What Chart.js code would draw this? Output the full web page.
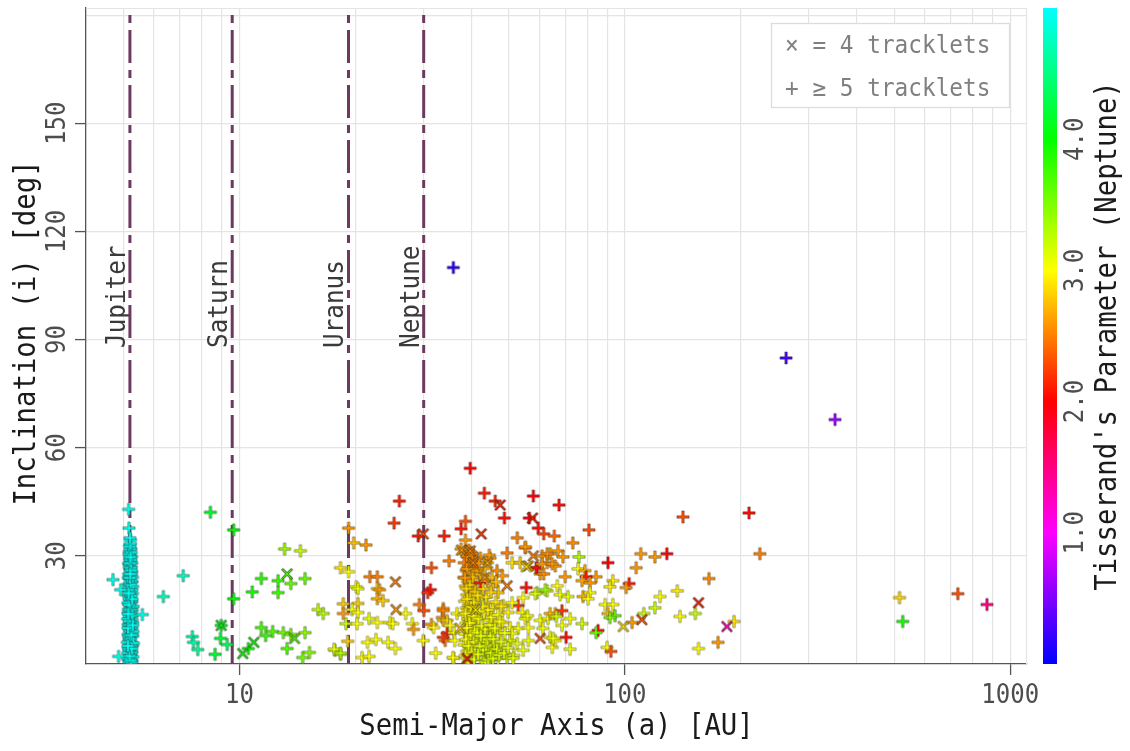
<!DOCTYPE html>
<html>
<head>
<meta charset="utf-8">
<script src="https://cdn.jsdelivr.net/npm/chart.js@4.4.1/dist/chart.umd.min.js"></script>
<style>
  html, body { margin: 0; padding: 0; background: #fff; }
  canvas { display: block; }
</style>
</head>
<body>
<canvas id="orbitChart" width="1130" height="751"></canvas>
<script>
// each entry: [semi-major axis (AU), inclination (deg), Tisserand parameter wrt Neptune]

const crossMarks = [
    [8.97, 10.7, 4.1], [10.2, 2.9, 4.0], [10.9, 6.0, 4.0], [13.3, 25.0, 3.75], [13.9, 7.1, 3.7],
    [25.4, 22.8, 2.5], [25.5, 15.1, 2.6], [30.0, 36.1, 2.3], [42.4, 36.1, 2.2], [47.5, 44.1, 2.1],
    [37.7, 31.6, 2.6], [44.0, 28.0, 2.7], [40.4, 28.1, 2.5], [49.5, 21.7, 2.5], [39.0, 1.5, 2.05],
    [39.7, 31.4, 2.5], [37.4, 9.9, 2.8], [43.3, 24.0, 2.6], [41.0, 15.0, 2.9],
    [57.9, 30.0, 2.5], [56.2, 27.2, 2.7], [60.3, 7.1, 2.3], [57.6, 40.5, 2.1], [55.5, 27.0, 2.9],
    [110.7, 12.3, 2.3], [99.1, 10.4, 2.9], [155.3, 17.0, 2.1], [184, 10.4, 1.3]
];

const plusTrojans = [
    [5.16, 42.9, 4.9], [5.17, 37.7, 4.9], [5.22, 34.4, 4.95], [5.20, 33.1, 4.95], [5.23, 32.0, 4.95],
    [5.18, 31.2, 4.95], [5.21, 30.5, 4.95], [5.25, 29.8, 4.95], [5.19, 29.1, 4.95], [5.22, 28.4, 4.95],
    [5.17, 27.6, 4.95], [5.24, 27.0, 4.95], [5.20, 26.3, 4.95], [5.26, 25.5, 4.95], [5.16, 25.0, 4.95],
    [5.22, 24.2, 4.95], [5.19, 23.5, 4.95], [5.27, 22.8, 4.95], [5.15, 22.1, 4.95], [5.21, 21.6, 4.95],
    [5.24, 20.9, 4.95], [5.18, 20.2, 4.95], [5.28, 19.6, 4.95], [5.14, 19.0, 4.95], [5.22, 18.5, 4.95],
    [5.20, 17.8, 4.95], [5.26, 17.2, 4.95], [5.16, 16.6, 4.95], [5.23, 16.0, 4.95], [5.19, 15.4, 4.95],
    [5.28, 14.9, 4.95], [5.14, 14.2, 4.95], [5.21, 13.7, 4.95], [5.25, 13.1, 4.95], [5.17, 12.6, 4.95],
    [5.22, 12.0, 4.95], [5.29, 11.5, 4.95], [5.15, 11.0, 4.95], [5.20, 10.4, 4.95], [5.26, 9.8, 4.95],
    [5.18, 9.3, 4.95], [5.23, 8.8, 4.95], [5.14, 8.2, 4.95], [5.29, 7.7, 4.95], [5.21, 7.2, 4.95],
    [5.17, 6.6, 4.95], [5.25, 6.1, 4.95], [5.19, 5.6, 4.95], [5.28, 5.0, 4.95], [5.15, 4.5, 4.95],
    [5.22, 4.0, 4.95], [5.26, 3.4, 4.95], [5.18, 2.9, 4.95], [5.24, 2.3, 4.95], [5.20, 1.7, 4.95],
    [5.16, 1.2, 4.95], [5.27, 0.8, 4.95], [5.21, 0.4, 4.95],
    [5.21, 31.8, 4.95], [5.19, 30.0, 4.95], [5.23, 28.9, 4.95], [5.18, 26.8, 4.95], [5.22, 25.9, 4.95],
    [5.25, 24.6, 4.95], [5.17, 23.9, 4.95], [5.24, 23.0, 4.95], [5.20, 22.4, 4.95], [5.16, 21.2, 4.95],
    [5.26, 20.5, 4.95], [5.21, 19.3, 4.95], [5.17, 18.1, 4.95], [5.24, 17.5, 4.95], [5.20, 16.8, 4.95],
    [5.27, 15.8, 4.95], [5.15, 15.1, 4.95], [5.22, 14.5, 4.95], [5.18, 13.3, 4.95], [5.27, 12.3, 4.95],
    [5.20, 11.7, 4.95], [5.16, 10.8, 4.95], [5.24, 10.1, 4.95], [5.21, 9.0, 4.95], [5.27, 8.4, 4.95],
    [5.16, 7.4, 4.95], [5.22, 6.9, 4.95], [5.18, 6.2, 4.95], [5.27, 5.4, 4.95], [5.20, 4.8, 4.95],
    [5.16, 3.7, 4.95], [5.25, 3.1, 4.95], [5.21, 2.6, 4.95], [5.18, 1.9, 4.95], [5.24, 1.4, 4.95],
    [5.19, 0.9, 4.95],
    [5.13, 3.0, 4.95], [5.29, 2.0, 4.95], [5.12, 6.0, 4.95], [5.30, 9.0, 4.95], [5.13, 12.5, 4.95],
    [5.30, 16.0, 4.95], [5.14, 17.0, 4.95], [5.29, 21.5, 4.95], [5.15, 24.0, 4.95], [5.28, 24.0, 4.95],
    [5.16, 28.0, 4.95], [5.26, 28.0, 4.95], [5.17, 30.6, 4.95], [5.24, 31.0, 4.95], [5.19, 32.6, 4.95],
    [5.22, 33.4, 4.95], [5.20, 35.0, 4.95], [5.18, 4.2, 4.95], [5.23, 5.2, 4.95], [5.19, 7.9, 4.95],
    [5.25, 8.0, 4.95], [5.22, 10.8, 4.95], [5.18, 11.9, 4.95], [5.25, 14.0, 4.95], [5.21, 15.1, 4.95],
    [5.18, 16.4, 4.95], [5.24, 18.9, 4.95], [5.19, 20.0, 4.95], [5.22, 22.0, 4.95], [5.20, 23.9, 4.95],
    [5.23, 26.6, 4.95], [5.20, 27.9, 4.95], [5.22, 29.6, 4.95], [5.14, 10.0, 4.95], [5.28, 13.5, 4.95],
    [5.12, 1.5, 4.95], [5.31, 5.8, 4.95], [5.15, 13.9, 4.95], [5.27, 18.0, 4.95], [5.13, 20.5, 4.95],
    [5.17, 0.6, 4.95], [5.25, 0.5, 4.95], [5.22, 1.0, 4.95], [5.19, 2.2, 4.95], [5.26, 4.3, 4.95],
    [5.14, 5.0, 4.95], [5.29, 10.7, 4.95], [5.16, 19.6, 4.95], [5.24, 26.0, 4.95], [5.21, 25.0, 4.95],
    [4.70, 23.4, 4.9], [4.92, 20.6, 4.9], [5.60, 13.7, 4.9], [4.86, 2.1, 4.9]
];

const plusCentaurs = [
    [6.35, 18.7, 4.75], [7.15, 24.5, 4.75], [7.55, 7.6, 4.65], [7.60, 6.0, 4.65], [7.80, 4.0, 4.6],
    [8.41, 42.1, 4.15], [8.65, 2.7, 4.2], [8.97, 10.7, 4.1], [8.93, 7.1, 4.2], [9.30, 5.4, 4.35],
    [9.66, 37.2, 4.0], [9.66, 18.1, 4.0], [10.55, 4.3, 3.95], [10.8, 20.0, 3.9], [11.4, 23.7, 3.85],
    [11.4, 10.1, 3.75], [11.7, 7.9, 3.8], [12.2, 9.0, 3.7], [13.1, 31.9, 3.4], [14.4, 31.4, 3.2],
    [12.6, 23.1, 3.8], [13.6, 22.3, 3.6], [14.8, 23.7, 3.6], [12.6, 19.8, 3.75], [13.0, 8.7, 3.6],
    [13.6, 8.2, 3.5], [14.8, 8.7, 3.45], [13.3, 4.3, 3.7], [14.6, 1.8, 3.55], [15.2, 3.2, 3.5],
    [16.0, 15.1, 3.25], [16.5, 14.0, 3.3], [17.7, 3.8, 3.1], [18.3, 2.7, 3.2],
    [19.2, 37.7, 2.6], [19.8, 33.6, 2.75], [21.3, 33.0, 2.6], [18.3, 26.7, 2.9], [19.2, 25.6, 3.0],
    [21.8, 24.2, 2.5], [22.8, 24.2, 2.5], [20.1, 21.4, 3.0], [20.3, 20.9, 3.1], [22.8, 20.9, 2.8],
    [18.6, 16.7, 2.8], [20.3, 16.8, 2.8], [22.8, 18.1, 2.7], [18.6, 14.0, 2.6], [19.6, 15.1, 3.0],
    [20.3, 14.3, 3.0], [18.9, 11.2, 3.2], [20.2, 11.2, 3.0], [21.7, 12.6, 3.1], [22.8, 11.5, 3.0],
    [19.1, 6.3, 2.8], [21.5, 6.0, 3.0], [22.6, 6.8, 3.0], [20.8, 1.8, 3.0], [21.7, 2.1, 3.0],
    [17.6, 4.1, 3.1], [18.3, 3.0, 3.3], [23.6, 17.6, 2.8], [23.1, 20.6, 2.6], [25.2, 39.1, 2.2],
    [26.0, 45.2, 2.1], [24.6, 11.5, 3.0], [25.0, 11.2, 3.0], [24.3, 6.0, 3.0], [25.4, 4.3, 3.0],
    [27.0, 14.0, 3.0], [28.1, 11.2, 3.0], [28.3, 9.6, 2.6], [29.3, 16.5, 2.5], [30.1, 14.8, 2.3],
    [30.8, 19.8, 2.2], [31.3, 20.6, 2.05], [29.1, 35.5, 2.1], [31.5, 26.7, 2.3], [30.0, 6.5, 3.0],
    [31.5, 11.0, 2.6], [31.9, 10.1, 3.0], [32.3, 3.0, 3.0], [33.6, 12.9, 2.6], [33.8, 12.1, 2.75],
    [33.8, 15.4, 2.6], [34.0, 35.5, 2.1], [35.0, 28.6, 2.5], [34.6, 8.5, 2.1], [34.2, 6.5, 2.5],
    [36.0, 8.7, 3.0], [36.2, 6.5, 3.0], [36.7, 14.0, 3.0], [36.0, 1.6, 3.0], [33.8, 14.8, 2.5],
    [34.6, 12.1, 2.8], [33.8, 7.4, 2.2], [35.2, 10.7, 3.0], [35.8, 1.8, 3.0], [37.6, 37.5, 2.1],
    [38.6, 39.6, 2.3], [38.6, 34.4, 2.6], [39.7, 54.3, 2.0], [43.2, 47.4, 2.1], [46.1, 45.2, 2.15],
    [48.7, 40.5, 2.05], [35.9, 110.0, 0.15]
];

const plusKuiper = [
    [39.4, 31.6, 2.6], [38.5, 31.0, 2.55], [40.2, 30.4, 2.6], [39.0, 29.7, 2.5], [41.0, 29.4, 2.65],
    [39.7, 28.8, 2.6], [38.3, 28.1, 2.5], [40.5, 27.6, 2.7], [39.2, 27.0, 2.6], [41.6, 26.5, 2.7],
    [38.8, 25.9, 2.65], [40.0, 25.3, 2.75], [39.5, 24.6, 2.7], [38.2, 24.0, 2.6], [40.8, 23.5, 2.75],
    [39.1, 22.9, 2.8], [39.9, 22.2, 2.7], [38.6, 21.6, 2.8], [41.3, 21.0, 2.8], [39.4, 20.4, 2.85],
    [40.4, 19.8, 2.8], [38.9, 19.2, 2.9], [39.7, 18.5, 2.85], [41.7, 17.9, 2.9], [38.4, 17.4, 2.9],
    [40.1, 16.8, 2.95], [39.3, 16.2, 2.9], [38.8, 15.5, 2.95], [40.6, 14.9, 2.9], [39.6, 14.3, 3.0],
    [38.1, 13.7, 2.95], [41.2, 13.1, 3.0], [39.2, 12.5, 3.0], [40.0, 11.9, 2.95], [38.7, 11.3, 3.0],
    [39.8, 10.7, 3.05], [41.5, 10.1, 3.0], [39.0, 9.5, 3.0], [40.3, 8.9, 3.05], [38.5, 8.3, 3.0],
    [39.5, 7.7, 3.05], [41.0, 7.1, 3.05], [39.2, 6.5, 3.0], [40.0, 5.9, 3.05], [38.3, 5.3, 3.0],
    [39.7, 4.7, 3.05], [40.7, 4.1, 3.1], [38.9, 3.5, 3.05], [39.5, 2.9, 3.05], [40.2, 2.2, 3.1],
    [39.0, 1.6, 3.05], [39.8, 1.0, 3.1], [39.3, 0.5, 3.1],
    [39.9, 31.0, 2.55], [38.9, 30.0, 2.6], [40.6, 28.5, 2.55], [39.3, 26.4, 2.7], [40.3, 24.1, 2.75],
    [39.6, 21.9, 2.8], [38.8, 20.9, 2.85], [40.9, 20.1, 2.8], [39.0, 18.0, 2.9], [40.5, 17.1, 2.9],
    [39.9, 15.8, 2.95], [38.6, 14.0, 2.95], [40.4, 13.3, 3.0], [39.5, 11.4, 3.0], [38.9, 10.0, 3.0],
    [40.8, 9.2, 3.0], [39.8, 8.0, 3.05], [38.7, 6.8, 3.0], [40.5, 6.1, 3.05], [39.3, 5.0, 3.05],
    [40.0, 3.2, 3.1], [38.6, 2.4, 3.05], [40.6, 1.3, 3.1],
    [37.6, 31.9, 2.65], [40.2, 30.6, 2.55], [42.2, 29.4, 2.6], [44.0, 28.1, 2.75], [44.7, 29.4, 2.65],
    [38.9, 26.4, 2.6], [41.4, 25.9, 2.6], [46.6, 25.9, 2.55], [48.1, 24.5, 2.6], [38.5, 23.9, 2.6],
    [42.2, 22.5, 2.1], [44.0, 23.1, 2.7], [45.5, 21.7, 2.75], [46.9, 19.8, 2.8], [42.6, 18.4, 2.95],
    [44.0, 16.8, 2.9], [45.5, 15.6, 2.95], [48.4, 16.2, 2.9], [49.8, 14.3, 2.95], [41.7, 12.6, 3.0],
    [44.3, 12.1, 3.0], [46.1, 11.2, 3.0], [48.1, 11.5, 2.95], [50.4, 10.1, 3.0], [52.9, 9.9, 3.05],
    [41.4, 8.7, 3.1], [44.0, 8.7, 3.1], [45.5, 9.3, 3.1], [47.5, 8.7, 3.05], [44.7, 7.4, 3.15],
    [42.2, 6.5, 3.1], [42.9, 4.6, 3.15], [44.3, 2.4, 3.15], [46.1, 3.8, 3.15], [48.4, 4.6, 3.1],
    [50.4, 6.5, 3.1], [51.0, 8.5, 3.05], [52.6, 5.7, 3.1], [42.6, 1.6, 3.15], [44.7, 1.0, 3.15],
    [46.9, 1.6, 3.15], [49.5, 1.8, 3.15], [43.5, 0.5, 3.15],
    [43.0, 2.8, 3.15], [43.8, 3.6, 3.15], [44.5, 4.5, 3.15], [45.2, 2.0, 3.15], [45.8, 5.4, 3.1],
    [46.4, 2.9, 3.15], [43.2, 6.1, 3.1], [44.2, 1.2, 3.15], [44.9, 3.1, 3.15], [45.5, 1.5, 3.15],
    [42.9, 3.9, 3.15], [43.6, 5.1, 3.1], [44.0, 6.8, 3.1], [44.8, 7.8, 3.1], [45.6, 6.9, 3.1],
    [46.6, 4.1, 3.1], [47.2, 2.5, 3.15], [43.4, 9.6, 3.05], [42.5, 10.6, 3.05], [44.6, 10.8, 3.05],
    [46.0, 9.9, 3.05], [47.8, 6.2, 3.1], [48.6, 3.0, 3.1], [42.0, 4.9, 3.1], [41.6, 2.7, 3.1],
    [42.3, 7.8, 3.1], [45.0, 13.0, 3.0], [43.1, 14.2, 3.0], [46.8, 13.6, 3.0], [44.1, 15.0, 2.95],
    [42.8, 16.0, 2.95], [41.9, 14.6, 3.0], [47.3, 11.8, 3.0], [48.8, 8.6, 3.05], [49.8, 4.5, 3.1],
    [51.5, 2.4, 3.1], [46.2, 17.2, 2.9], [43.6, 18.6, 2.9], [45.0, 19.9, 2.85], [41.5, 19.0, 2.9],
    [47.8, 16.0, 2.9], [42.2, 24.9, 2.75], [43.4, 26.5, 2.7], [45.2, 24.0, 2.75], [41.8, 27.9, 2.6],
    [44.5, 30.2, 2.6], [42.9, 20.8, 2.8], [46.3, 22.8, 2.75]
];

const plusScattered = [
    [55.2, 32.2, 2.5], [49.5, 30.8, 2.5], [61.0, 30.0, 2.6], [64.0, 30.6, 2.6], [51.0, 28.1, 2.9],
    [53.5, 28.1, 2.8], [59.2, 26.7, 2.05], [62.9, 28.1, 2.6], [60.3, 25.0, 2.6], [66.0, 27.2, 2.6],
    [55.5, 21.2, 2.05], [59.2, 19.8, 3.3], [62.9, 20.3, 3.0], [66.8, 21.7, 3.0], [52.9, 16.2, 2.2],
    [51.0, 17.0, 3.0], [54.2, 14.3, 3.0], [55.2, 12.6, 3.05], [56.2, 10.1, 3.0], [60.3, 12.1, 3.0],
    [63.2, 12.6, 3.05], [66.0, 14.0, 2.7], [64.0, 7.4, 3.05], [64.8, 4.6, 3.0], [66.0, 6.5, 3.0],
    [56.2, 6.5, 3.05], [54.5, 3.8, 3.05], [51.3, 1.6, 3.1], [52.6, 35.0, 2.5], [55.2, 32.5, 2.6],
    [56.5, 40.5, 2.0],
    [57.9, 46.6, 2.0], [67.5, 44.1, 2.05], [59.6, 37.7, 2.05], [61.6, 36.1, 2.25], [65.6, 35.5, 2.4],
    [80.7, 37.2, 2.3], [73.3, 33.6, 2.55], [141.5, 40.8, 2.3], [128.5, 30.6, 2.0], [119.7, 29.7, 2.6],
    [110.0, 30.6, 2.6], [107.0, 26.7, 2.6], [165.3, 23.7, 2.55], [90.4, 28.1, 2.0], [76.0, 29.7, 3.3],
    [67.1, 31.4, 2.6], [69.1, 29.7, 2.6], [62.9, 30.6, 2.55], [58.9, 26.7, 2.05], [61.0, 27.8, 2.6],
    [64.8, 27.8, 2.6], [61.6, 25.0, 2.55], [70.0, 24.2, 2.6], [75.6, 26.4, 3.0], [78.8, 25.9, 2.7],
    [84.2, 24.2, 2.6], [79.3, 24.2, 2.1], [77.4, 23.1, 2.65], [81.2, 22.5, 2.6], [93.1, 23.1, 2.95],
    [91.5, 21.4, 2.95], [102.6, 22.3, 2.1], [100.8, 21.2, 2.6], [62.2, 20.6, 3.4], [58.6, 19.5, 3.1],
    [54.5, 18.4, 3.0], [67.9, 19.2, 3.05], [71.2, 18.7, 3.1], [77.9, 18.7, 2.7], [81.2, 19.8, 3.0],
    [80.3, 18.1, 3.0], [123.4, 18.7, 3.0], [136.8, 20.3, 2.95], [119.7, 15.6, 3.2], [112.0, 14.0, 3.2],
    [104.4, 11.5, 2.6], [88.9, 16.5, 3.0], [93.1, 16.5, 3.0], [90.4, 14.0, 2.7], [94.3, 13.4, 3.6],
    [91.5, 12.9, 3.5], [68.7, 14.8, 2.2], [64.0, 14.0, 2.7], [66.4, 13.2, 3.2], [72.1, 12.6, 3.05],
    [68.7, 10.7, 3.05], [77.4, 11.2, 3.2], [55.9, 13.4, 3.05], [61.3, 9.9, 3.05], [70.4, 7.4, 2.05],
    [65.2, 7.1, 3.05], [72.1, 4.1, 3.05], [85.2, 9.3, 2.05], [84.2, 8.7, 3.6], [89.9, 4.6, 3.05],
    [92.0, 3.5, 2.3], [152.4, 14.0, 3.2], [139.0, 13.2, 3.0], [155.3, 4.3, 3.0], [174.5, 6.0, 2.6],
    [192, 11.8, 2.9], [210, 41.9, 2.05], [224, 30.6, 2.5],
    [516, 18.4, 2.85], [526, 11.8, 3.9], [731, 19.5, 2.3], [870, 16.5, 1.5],
    [262, 84.9, 0.25], [351, 67.8, 0.6]
];

const planetNames = ['Jupiter', 'Saturn', 'Uranus', 'Neptune'];
const planetAxes = [5.20, 9.58, 19.19, 30.07];

const xGridValues = [5, 6, 7, 8, 9, 10, 20, 30, 40, 50, 60, 70, 80, 90, 100, 200, 300, 400, 500, 600, 700, 800, 900, 1000];
const xLabelTicks = [10, 100, 1000];
const yGridValues = [0, 30, 60, 90, 120, 150, 180];
const yLabelTicks = [30, 60, 90, 120, 150];
const cbarTicks = [1.0, 2.0, 3.0, 4.0];
const cbarMin = 0, cbarMax = 5;

const MONO = '"DejaVu Sans Mono", "Liberation Mono", monospace';
const GRID = '#e4e4e4';
const AXIS = '#555555';

function tisserandColor(t) {
    const v = Math.max(cbarMin, Math.min(cbarMax, t));
    const hue = (240 + 60 * v) % 360;
    return 'hsl(' + hue + ',100%,50%)';
}

// small filled plus / x glyph with a thin dark edge, one canvas per colour
const markerCache = {};
function markerImage(t, kind) {
    const key = kind + t;
    if (markerCache[key]) return markerCache[key];
    const c = document.createElement('canvas');
    c.width = 18; c.height = 18;
    const g = c.getContext('2d');
    g.translate(9, 9);
    let L = 6.1, W = 1.2;
    if (kind === 'x') { g.rotate(Math.PI / 4); L = 6.8; W = 0.95; }
    g.beginPath();
    g.moveTo(-W, -L); g.lineTo(W, -L); g.lineTo(W, -W); g.lineTo(L, -W);
    g.lineTo(L, W); g.lineTo(W, W); g.lineTo(W, L); g.lineTo(-W, L);
    g.lineTo(-W, W); g.lineTo(-L, W); g.lineTo(-L, -W); g.lineTo(-W, -W);
    g.closePath();
    g.fillStyle = tisserandColor(t);
    g.fill();
    g.strokeStyle = kind === 'x' ? 'rgba(40,30,20,0.85)' : 'rgba(40,40,40,0.6)';
    g.lineWidth = kind === 'x' ? 0.9 : 0.7;
    g.stroke();
    markerCache[key] = c;
    return c;
}

function toPoints(rows) {
    return rows.map(r => ({ x: r[0], y: r[1], t: r[2] }));
}

function drawText(ctx, s, x, y, o) {
    ctx.save();
    ctx.translate(x, y);
    if (o.rot) ctx.rotate(o.rot);
    ctx.scale(o.sx || 0.9, 1);
    ctx.font = o.size + 'px ' + MONO;
    ctx.fillStyle = o.color || '#333';
    ctx.textAlign = o.align || 'center';
    ctx.textBaseline = 'alphabetic';
    ctx.fillText(s, 0, 0);
    ctx.restore();
}

const decorations = {
    id: 'decorations',
    beforeDatasetsDraw(chart) {
        const { ctx, chartArea: a, scales: { x } } = chart;
        ctx.save();
        ctx.strokeStyle = GRID;
        ctx.lineWidth = 1.2;
        ctx.beginPath();
        ctx.moveTo(a.left, a.top + 0.5); ctx.lineTo(a.right, a.top + 0.5);
        ctx.moveTo(a.right - 0.5, a.top); ctx.lineTo(a.right - 0.5, a.bottom);
        ctx.stroke();

        planetAxes.forEach((av, k) => {
            const px = x.getPixelForValue(av);
            drawText(ctx, planetNames[k], px - 5, 348, { size: 27, sx: 0.9, rot: -Math.PI / 2, align: 'left', color: '#3a3a3a' });
            ctx.strokeStyle = '#6b3a5e';
            ctx.lineWidth = 3;
            ctx.setLineDash([33, 7, 8, 7]);
            ctx.lineDashOffset = 4;
            ctx.beginPath();
            ctx.moveTo(px, a.bottom);
            ctx.lineTo(px, a.top);
            ctx.stroke();
            ctx.setLineDash([]);
        });
        ctx.restore();
    },
    afterDraw(chart) {
        const { ctx, chartArea: a, scales: { x, y } } = chart;

        xLabelTicks.forEach(v => {
            drawText(ctx, String(v), x.getPixelForValue(v), 703, { size: 27, sx: 0.89, color: '#4d4d4d' });
        });
        yLabelTicks.forEach(v => {
            drawText(ctx, String(v), 65, y.getPixelForValue(v), { size: 27, sx: 0.89, rot: -Math.PI / 2, color: '#4d4d4d' });
        });

        drawText(ctx, 'Semi-Major Axis (a) [AU]', (a.left + a.right) / 2, 735, { size: 30, sx: 0.91, color: '#1a1a1a' });
        drawText(ctx, 'Inclination (i) [deg]', 35, 333, { size: 30, sx: 0.91, rot: -Math.PI / 2, color: '#1a1a1a' });

        // colour bar
        const cbLeft = 1043, cbWidth = 14, cbTop = a.top, cbBottom = a.bottom;
        const grad = ctx.createLinearGradient(0, cbBottom, 0, cbTop);
        for (let v = cbarMin; v <= cbarMax + 1e-9; v += 0.25) {
            grad.addColorStop((v - cbarMin) / (cbarMax - cbarMin), tisserandColor(v));
        }
        ctx.fillStyle = grad;
        ctx.fillRect(cbLeft, cbTop, cbWidth, cbBottom - cbTop);
        cbarTicks.forEach(v => {
            const py = cbBottom - (v - cbarMin) / (cbarMax - cbarMin) * (cbBottom - cbTop);
            drawText(ctx, v.toFixed(1), 1083, py, { size: 27, sx: 0.89, rot: -Math.PI / 2, color: '#4d4d4d' });
        });
        drawText(ctx, "Tisserand's Parameter (Neptune)", 1116, 336, { size: 30, sx: 0.91, rot: -Math.PI / 2, color: '#1a1a1a' });

        // legend box
        ctx.save();
        ctx.fillStyle = '#ffffff';
        ctx.fillRect(771, 23, 238, 84);
        ctx.strokeStyle = '#dcdcdc';
        ctx.lineWidth = 1.3;
        ctx.strokeRect(771.5, 23.5, 238, 84);
        ctx.restore();
        drawText(ctx, '\u00d7 = 4 tracklets', 785, 53, { size: 25, sx: 0.91, align: 'left', color: '#808080' });
        drawText(ctx, '+ \u2265 5 tracklets', 785, 96, { size: 25, sx: 0.91, align: 'left', color: '#808080' });
    }
};

const ctx = document.getElementById('orbitChart').getContext('2d');
const chart = new Chart(ctx, {
    type: 'scatter',
    data: {
        datasets: [
            {
                label: '4 tracklets',
                data: toPoints(crossMarks),
                pointStyle: c => markerImage(c.raw.t, 'x'),
                pointRadius: 7,
                order: 0
            },
            {
                label: '5+ tracklets',
                data: toPoints(plusTrojans.concat(plusCentaurs, plusKuiper, plusScattered)),
                pointStyle: c => markerImage(c.raw.t, 'plus'),
                pointRadius: 7,
                order: 1
            }
        ]
    },
    options: {
        responsive: false,
        animation: false,
        events: [],
        layout: { padding: { left: 0, top: 4, right: 103, bottom: 0 } },
        plugins: { legend: { display: false }, tooltip: { enabled: false } },
        scales: {
            x: {
                type: 'logarithmic',
                min: 4.0,
                max: 1105,
                afterBuildTicks: s => { s.ticks = xGridValues.map(v => ({ value: v, major: xLabelTicks.includes(v) })); },
                afterFit: s => { s.height = 87; },
                ticks: { display: false, autoSkip: false },
                grid: {
                    color: GRID,
                    lineWidth: 1.2,
                    tickLength: 11,
                    tickWidth: 1.3,
                    tickColor: c => xLabelTicks.includes(c.tick.value) ? AXIS : 'rgba(0,0,0,0)'
                },
                border: { color: AXIS, width: 1.3 }
            },
            y: {
                type: 'linear',
                min: 0,
                max: 182,
                afterBuildTicks: s => { s.ticks = yGridValues.map(v => ({ value: v })); },
                afterFit: s => { s.width = 86; },
                ticks: { display: false, autoSkip: false },
                grid: {
                    color: c => c.tick.value === 0 ? 'rgba(0,0,0,0)' : GRID,
                    lineWidth: 1.2,
                    tickLength: 11,
                    tickWidth: 1.3,
                    tickColor: c => yLabelTicks.includes(c.tick.value) ? AXIS : 'rgba(0,0,0,0)'
                },
                border: { color: AXIS, width: 1.3 }
            }
        }
    },
    plugins: [decorations]
});
</script>
</body>
</html>
